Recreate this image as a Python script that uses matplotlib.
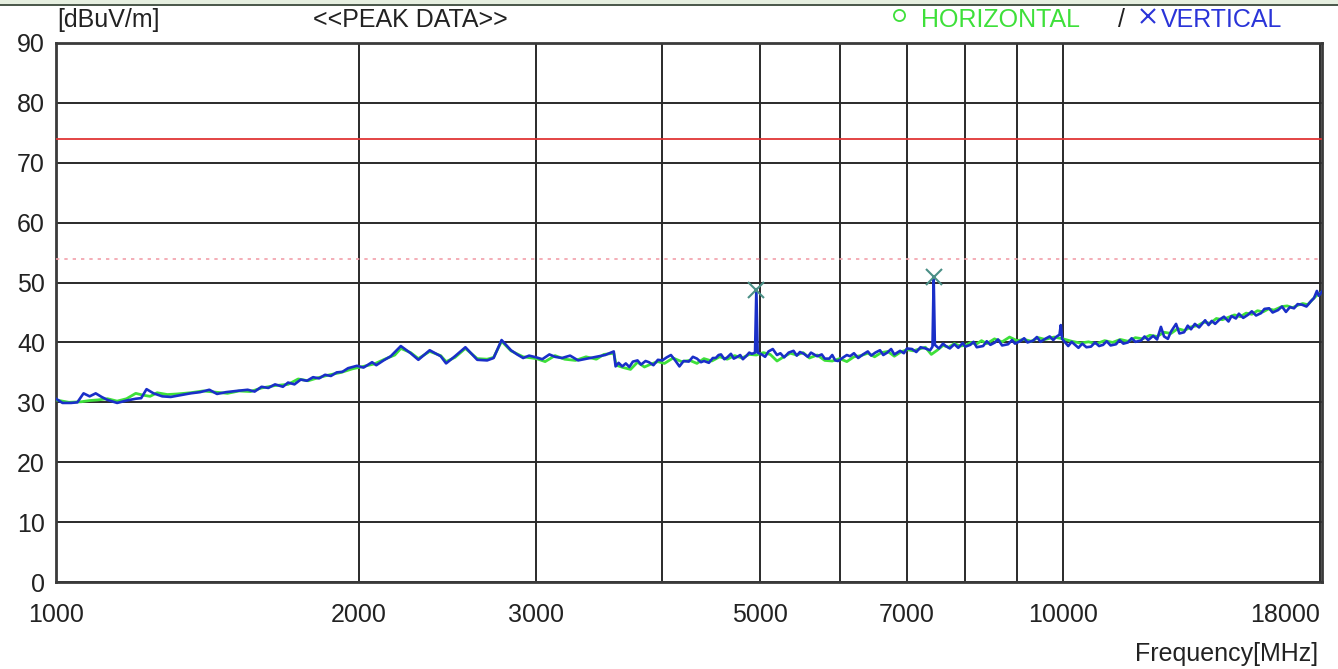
import matplotlib
matplotlib.use("Agg")
import matplotlib.pyplot as plt
from matplotlib.lines import Line2D
from matplotlib.ticker import FixedLocator, NullFormatter

plt.rcParams['font.family'] = ['Liberation Sans', 'DejaVu Sans']

# ---------------- data ----------------
x_ticks = [1000, 2000, 3000, 5000, 7000, 10000, 18000]
x_tick_labels = ["1000", "2000", "3000", "5000", "7000", "10000", "18000"]
x_minor = [4000, 6000, 8000, 9000]
y_ticks = [0, 10, 20, 30, 40, 50, 60, 70, 80, 90]

limit_peak = 74
limit_avg = 54

v_freq = [1000, 1015, 1035, 1050, 1065, 1080, 1095, 1110, 1125, 1150, 1175, 1200, 1215, 1230,
          1250, 1275, 1300, 1330, 1360, 1390, 1420, 1445, 1475, 1510, 1550, 1575, 1600, 1625,
          1650, 1680, 1700, 1725, 1750, 1775, 1800, 1825, 1850, 1875, 1900, 1925, 1950, 1990,
          2020, 2060, 2080, 2115, 2150, 2200, 2250, 2290, 2350, 2410, 2440, 2490, 2550, 2620,
          2680, 2720, 2770, 2830, 2870, 2910, 2950, 3000, 3040, 3090, 3130, 3180, 3240, 3300,
          3370, 3440, 3510, 3580, 3595, 3620, 3650, 3680, 3710, 3740, 3780, 3810, 3850, 3880,
          3920, 3960, 4000, 4040, 4080, 4120, 4160, 4200, 4250, 4290, 4330, 4370, 4400, 4450,
          4490, 4520, 4550, 4575, 4610, 4640, 4680, 4710, 4750, 4780, 4810, 4845, 4880, 4910,
          4945, 4960, 4975, 5020, 5060, 5100, 5150, 5200, 5240, 5285, 5340, 5400, 5440, 5480,
          5530, 5580, 5620, 5700, 5760, 5800, 5860, 5900, 5940, 5980, 6050, 6100, 6145, 6200,
          6260, 6330, 6400, 6450, 6510, 6580, 6630, 6690, 6750, 6800, 6890, 6950, 7000, 7080,
          7150, 7220, 7300, 7380, 7420, 7440, 7460, 7530, 7600, 7650, 7720, 7800, 7870, 7950,
          8000, 8090, 8150, 8210, 8330, 8400, 8470, 8560, 8620, 8700, 8820, 8900, 8960, 9065,
          9150, 9220, 9340, 9420, 9500, 9600, 9700, 9780, 9840, 9920, 9950, 9980, 10050, 10120,
          10200, 10360, 10450, 10550, 10660, 10760, 10860, 10960, 11050, 11150, 11290, 11380,
          11480, 11600, 11700, 11800, 11950, 12050, 12150, 12290, 12400, 12510, 12600, 12710,
          12800, 12950, 13050, 13190, 13300, 13400, 13520, 13650, 13840, 13950, 14050, 14160,
          14300, 14450, 14600, 14700, 14850, 14950, 15100, 15260, 15400, 15550, 15730, 15850,
          16020, 16150, 16350, 16500, 16650, 16800, 16960, 17100, 17270, 17450, 17630, 17750,
          17870, 17950, 18080]
v_level = [30.6, 29.9, 29.9, 30.0, 31.5, 31.0, 31.5, 30.9, 30.4, 29.9, 30.3, 30.6, 30.7, 32.2,
           31.5, 31.0, 30.9, 31.2, 31.5, 31.7, 32.1, 31.4, 31.7, 31.9, 32.1, 31.8, 32.6, 32.4,
           33.0, 32.6, 33.3, 33.0, 33.8, 33.6, 34.2, 34.0, 34.6, 34.4, 35.0, 35.1, 35.7, 36.1,
           35.8, 36.7, 36.2, 37.0, 37.7, 39.4, 38.2, 37.1, 38.7, 37.7, 36.5, 37.7, 39.2, 37.1,
           37.0, 37.4, 40.4, 38.7, 38.0, 37.4, 37.8, 37.5, 37.2, 38.0, 37.6, 37.4, 37.8, 37.0,
           37.3, 37.6, 37.9, 38.5, 36.0, 36.6, 36.0, 36.5, 35.9, 36.8, 37.0, 36.3, 36.9, 36.7,
           36.2, 37.1, 37.0, 37.5, 37.9, 37.0, 36.0, 36.9, 36.8, 37.6, 37.3, 36.7, 36.9, 36.6,
           37.4, 37.4, 37.9, 38.0, 37.2, 37.5, 38.1, 37.3, 37.6, 37.9, 37.2, 37.7, 38.3, 38.1,
           38.3, 48.9, 38.3, 38.0, 37.6, 38.5, 38.9, 37.9, 38.2, 37.5, 38.3, 38.6, 37.8, 38.4,
           38.1, 37.6, 38.3, 37.7, 38.0, 37.3, 37.3, 37.9, 37.0, 36.9, 37.5, 37.9, 37.7, 38.2,
           37.4, 38.0, 38.5, 37.8, 38.3, 38.7, 37.9, 38.3, 38.9, 38.0, 38.6, 38.2, 39.0, 38.9,
           38.4, 39.2, 39.0, 38.7, 39.3, 51.0, 39.6, 39.0, 39.8, 39.4, 39.0, 39.7, 39.1, 39.9,
           39.3, 39.6, 40.1, 39.2, 39.4, 40.2, 39.6, 40.0, 40.5, 39.5, 39.7, 40.4, 39.8, 40.2,
           40.7, 40.0, 40.3, 40.9, 40.1, 40.6, 41.0, 40.4, 40.9, 41.3, 42.9, 40.6, 40.0, 39.4,
           40.1, 39.1, 39.8, 39.2, 39.3, 40.0, 39.4, 39.6, 40.2, 39.5, 39.7, 40.4,
           39.8, 40.0, 40.7, 40.1, 40.3, 41.0, 40.4, 41.1, 40.5, 42.6, 41.0, 40.6,
           41.8, 43.1, 41.5, 41.7, 42.8, 42.2, 43.1, 42.5, 43.7, 42.9, 43.6, 43.1,
           43.8, 44.3, 43.5, 44.4, 44.0, 44.8, 44.1, 44.6, 45.2, 44.5, 44.9, 45.6,
           45.7, 45.0, 45.4, 46.0, 45.1, 45.9, 45.7, 46.4, 46.3, 46.0, 46.9, 47.4,
           48.6, 47.8, 48.5]

h_freq = [1000, 1030, 1060, 1080, 1100, 1125, 1150, 1175, 1200, 1220, 1240, 1260, 1290, 1320,
          1360, 1400, 1440, 1480, 1520, 1560, 1600, 1650, 1700, 1740, 1780, 1820, 1870, 1920,
          1970, 2020, 2070, 2120, 2170, 2200, 2250, 2290, 2350, 2410, 2440, 2490, 2550, 2620,
          2680, 2720, 2770, 2830, 2910, 3000, 3060, 3130, 3200, 3280, 3360, 3440, 3500, 3580,
          3600, 3660, 3720, 3780, 3840, 3900, 3960, 4020, 4100, 4180, 4260, 4330, 4400, 4480,
          4560, 4640, 4720, 4800, 4880, 4960, 5040, 5120, 5200, 5280, 5360, 5440, 5520, 5600,
          5700, 5800, 5900, 6000, 6100, 6200, 6300, 6400, 6500, 6600, 6700, 6800, 6900, 7000,
          7100, 7200, 7300, 7400, 7500, 7600, 7700, 7800, 7900, 8000, 8100, 8200, 8300, 8400,
          8550, 8700, 8850, 9000, 9150, 9300, 9450, 9600, 9800, 10000, 10200, 10400, 10600,
          10800, 11000, 11200, 11400, 11600, 11800, 12000, 12200, 12400, 12600, 12800, 13000,
          13200, 13400, 13600, 13800, 14000, 14200, 14400, 14600, 14800, 15000, 15200, 15400,
          15600, 15800, 16000, 16200, 16500, 16700, 16900, 17100, 17300, 17500, 17700, 17900,
          18080]
h_level = [30.4, 30.0, 30.1, 30.3, 30.4, 30.6, 30.2, 30.6, 31.5, 31.2, 31.0, 31.6, 31.3, 31.4,
           31.6, 31.9, 31.7, 31.5, 31.9, 31.8, 32.4, 32.8, 33.0, 33.9, 33.6, 34.1, 34.6, 35.0,
           35.6, 36.0, 36.4, 37.2, 37.9, 39.0, 38.3, 37.3, 38.5, 37.8, 36.8, 37.5, 39.0, 37.3,
           37.2, 37.5, 40.2, 38.6, 37.6, 37.3, 36.8, 37.8, 37.2, 37.0, 37.6, 37.2, 38.0, 38.2,
           36.2, 35.8, 35.5, 36.7, 35.9, 36.4, 36.8, 36.5, 37.4, 36.8, 37.0, 36.5, 37.3, 36.9,
           37.6, 37.2, 37.8, 37.4, 38.0, 37.9, 38.3, 38.0, 36.9, 37.6, 38.2, 37.9, 38.3, 37.4,
           37.9, 37.0, 36.9, 37.3, 36.8, 37.6, 37.8, 38.2, 37.6, 38.3, 38.5, 37.7, 38.4, 38.8,
           38.6, 38.9, 39.2, 38.0, 38.7, 39.5, 39.2, 39.8, 39.4, 39.5, 40.0, 39.7, 40.3, 39.8,
           40.6, 40.1, 40.9, 40.3, 40.5, 40.2, 40.8, 40.5, 40.9, 40.6, 40.2, 39.9, 40.1,
           39.8, 40.3, 40.0, 40.5, 40.2, 40.8, 40.6, 41.2, 41.0, 41.7, 41.5, 42.3,
           42.0, 42.6, 42.8, 43.4, 43.2, 44.0, 43.8, 44.2, 44.6, 44.3, 44.9, 44.7,
           45.3, 45.1, 45.6, 45.4, 46.0, 46.1, 45.8, 46.2, 46.5, 46.3, 47.2, 48.0,
           48.4]

peak_freq = [4960, 7440]
peak_level = [48.7, 50.9]

# ---------------- figure ----------------
fig = plt.figure(figsize=(13.38, 6.69), dpi=100)
ax = fig.add_axes([56 / 1338, 1 - 582 / 669, (1322 - 56) / 1338, (582 - 43) / 669])

ax.set_xscale('log')
ax.set_xlim(1000, 18080)
ax.set_ylim(0, 90)

ax.xaxis.set_major_locator(FixedLocator(x_ticks))
ax.set_xticklabels(x_tick_labels)
ax.xaxis.set_minor_locator(FixedLocator(x_minor))
ax.xaxis.set_minor_formatter(NullFormatter())
ax.set_yticks(y_ticks)
ax.set_yticklabels([str(v) for v in y_ticks])

fs = 18
ax.tick_params(axis='both', which='both', length=0, labelsize=fs, colors='#222222')
ax.tick_params(axis='x', pad=15)
ax.tick_params(axis='y', pad=8)
for lbl in ax.get_xticklabels():
    if lbl.get_text() == "18000":
        lbl.set_horizontalalignment('right')

ax.grid(True, which='both', axis='x', color='#2a2a2a', linewidth=1.4)
ax.grid(True, which='major', axis='y', color='#2a2a2a', linewidth=1.4)
for s in ax.spines.values():
    s.set_color('#3a3a3a')
    s.set_linewidth(2.0)

ax.axhline(limit_peak, color='#e03535', linewidth=1.3, zorder=3)
ax.axhline(limit_avg, color='#f2a0aa', linewidth=1.2, linestyle=(0, (2, 3)), zorder=3)

ax.plot(h_freq, h_level, color='#3ee03a', linewidth=2.0, zorder=4)
ax.plot(v_freq, v_level, color='#1a2fc8', linewidth=1.9, zorder=5)
ax.plot(peak_freq, peak_level, linestyle='none', marker='x', markersize=11,
        markeredgewidth=1.5, color='#4a8f86', zorder=6)

# ---------------- texts ----------------
fig.text(57 / 1338, 1 - 20 / 669, "[dBuV/m]", fontsize=fs, color='#222222', va='center', ha='left')
fig.text(313 / 1338, 1 - 20 / 669, "<<PEAK DATA>>", fontsize=fs, color='#222222', va='center', ha='left')
fig.add_artist(Line2D([899 / 1338], [1 - 15 / 669], transform=fig.transFigure, linestyle='none',
                      marker='o', markersize=8, markerfacecolor='none',
                      markeredgecolor='#3ee03a', markeredgewidth=1.3))
fig.text(921 / 1338, 1 - 20 / 669, "HORIZONTAL", fontsize=fs, color='#3ee03a', va='center', ha='left')
fig.text(1118 / 1338, 1 - 20 / 669, "/", fontsize=fs, color='#222222', va='center', ha='left')
fig.add_artist(Line2D([1148 / 1338], [1 - 16 / 669], transform=fig.transFigure, linestyle='none',
                      marker='x', markersize=10, markeredgecolor='#2a34d8', markeredgewidth=1.5))
fig.text(1161 / 1338, 1 - 20 / 669, "VERTICAL", fontsize=fs, color='#2a34d8', va='center', ha='left')
fig.text(1318 / 1338, 1 - 654 / 669, "Frequency[MHz]", fontsize=fs, color='#222222', va='center', ha='right')

# cropped page edge at top
fig.patches.append(plt.Rectangle((0, 1 - 4 / 669), 1, 4 / 669, transform=fig.transFigure,
                                 facecolor='#e6efe0', edgecolor='none'))
fig.add_artist(Line2D([0, 1], [1 - 4.5 / 669, 1 - 4.5 / 669], transform=fig.transFigure,
                      color='#2a3a2a', linewidth=1.2))

fig.savefig("out.png", dpi=100)
